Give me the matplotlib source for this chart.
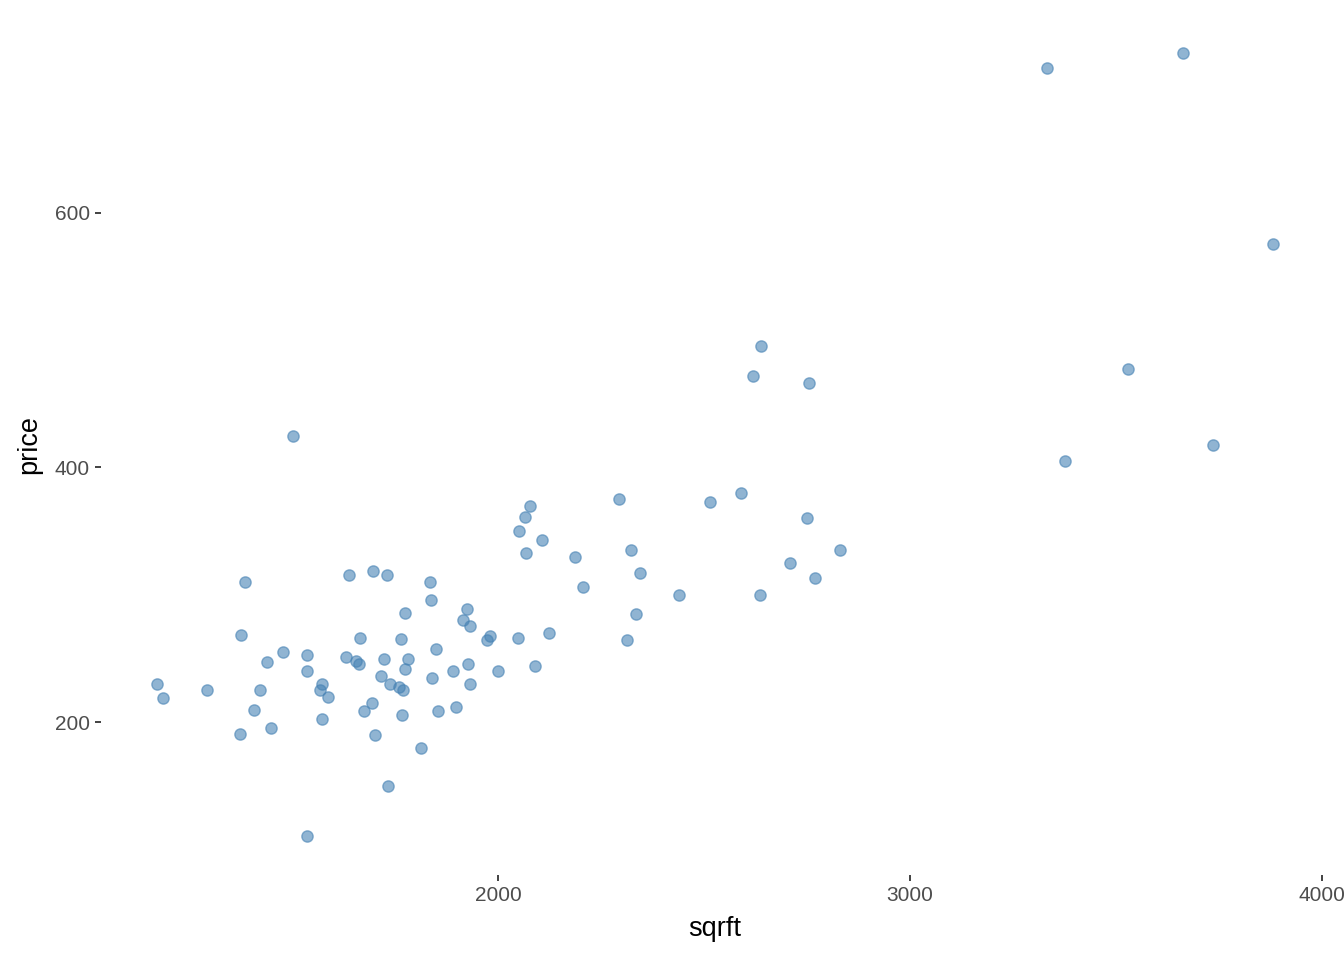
import matplotlib
matplotlib.use("Agg")
import matplotlib.pyplot as plt

plt.rcParams['font.family'] = ['Liberation Sans', 'DejaVu Sans']

# house size (sqft) and price (thousands)
sqrft = [3332, 3663, 3881, 2638, 2619, 2755, 3529, 3376, 3735, 1502,
         2294, 2515, 2590, 2078, 2066, 2051, 2107, 2068, 2187, 2323,
         2206, 2345, 2750, 2709, 2830, 2769, 2439, 2636, 2335, 2313,
         2124, 2090, 2049, 2000, 1981, 1973, 1925, 1915, 1932, 1927,
         1932, 1891, 1898, 1854, 1850, 1840, 1835, 1837, 1774, 1765,
         1782, 1774, 1760, 1769, 1767, 1813, 1733, 1738, 1716, 1723,
         1697, 1731, 1638, 1665, 1655, 1663, 1631, 1694, 1675, 1701,
         1587, 1573, 1568, 1573, 1536, 1536, 1536, 1478, 1439, 1422,
         1408, 1449, 1374, 1376, 1386, 1294, 1172, 1187]
price = [713.5, 725.0, 575.0, 495.0, 471.5, 466.5, 477.5, 405.0, 418.0, 425.0,
         375.0, 373.0, 380.0, 370.0, 361.0, 350.0, 343.0, 333.0, 330.0, 335.5,
         306.5, 317.0, 360.0, 325.0, 335.5, 313.5, 300.0, 300.0, 285.0, 265.0,
         270.0, 244.0, 266.5, 240.0, 268.0, 264.5, 289.0, 280.0, 275.5, 246.0,
         230.0, 240.0, 212.0, 209.0, 258.0, 235.0, 310.0, 296.0, 285.5, 265.5,
         250.0, 242.0, 227.5, 225.5, 206.0, 180.0, 150.0, 230.0, 236.5, 250.0,
         318.5, 315.5, 315.5, 266.5, 248.5, 246.0, 251.5, 215.5, 209.0, 190.5,
         220.0, 230.0, 225.5, 203.0, 253.0, 240.0, 111.0, 255.5, 247.5, 225.5,
         210.0, 196.0, 191.0, 268.5, 310.5, 225.5, 230.0, 219.5]

x_ticks = [2000, 3000, 4000]
y_ticks = [200, 400, 600]

fig = plt.figure(figsize=(13.44, 9.6), dpi=100)
ax = fig.add_axes([0.0751, 0.0885, 0.9137, 0.8969])

ax.scatter(sqrft, price, s=66, color='steelblue', alpha=0.6,
           edgecolors='steelblue', linewidths=1.0)

# ggplot-style 5% padding
xr = max(sqrft) - min(sqrft)
yr = max(price) - min(price)
ax.set_xlim(min(sqrft) - 0.05 * xr, max(sqrft) + 0.05 * xr)
ax.set_ylim(min(price) - 0.05 * yr, max(price) + 0.05 * yr)

ax.set_xticks(x_ticks)
ax.set_yticks(y_ticks)
for s in ax.spines.values():
    s.set_visible(False)
ax.tick_params(length=4, width=1.3, color='#333333', labelcolor='#4D4D4D',
               labelsize=15, pad=4)
ax.set_xlabel('sqrft', fontsize=19.5, color='black', labelpad=8)
ax.set_ylabel('price', fontsize=19.5, color='black', labelpad=9)

fig.savefig('out.png', dpi=100)
